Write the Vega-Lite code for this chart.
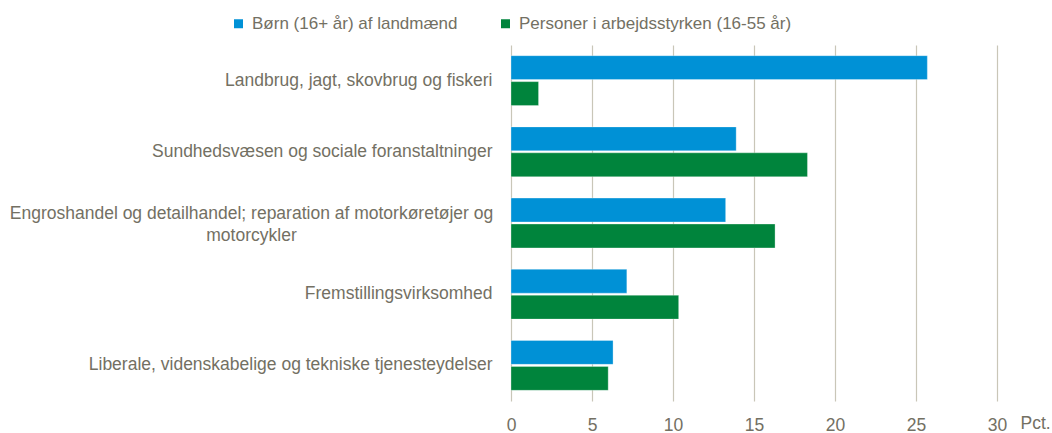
{
  "$schema": "https://vega.github.io/schema/vega-lite/v6.json",
  "autosize": "none",
  "width": 486,
  "height": 356,
  "padding": {"left": 511, "top": 45, "right": 55, "bottom": 32},
  "background": "white",
  "data": {
    "values": [
      {"branche": "Landbrug, jagt, skovbrug og fiskeri", "gruppe": "Børn (16+ år) af landmænd", "pct": 25.7},
      {"branche": "Landbrug, jagt, skovbrug og fiskeri", "gruppe": "Personer i arbejdsstyrken (16-55 år)", "pct": 1.7},
      {"branche": "Sundhedsvæsen og sociale foranstaltninger", "gruppe": "Børn (16+ år) af landmænd", "pct": 13.9},
      {"branche": "Sundhedsvæsen og sociale foranstaltninger", "gruppe": "Personer i arbejdsstyrken (16-55 år)", "pct": 18.3},
      {"branche": "Engroshandel og detailhandel; reparation af motorkøretøjer og motorcykler", "gruppe": "Børn (16+ år) af landmænd", "pct": 13.25},
      {"branche": "Engroshandel og detailhandel; reparation af motorkøretøjer og motorcykler", "gruppe": "Personer i arbejdsstyrken (16-55 år)", "pct": 16.3},
      {"branche": "Fremstillingsvirksomhed", "gruppe": "Børn (16+ år) af landmænd", "pct": 7.15},
      {"branche": "Fremstillingsvirksomhed", "gruppe": "Personer i arbejdsstyrken (16-55 år)", "pct": 10.35},
      {"branche": "Liberale, videnskabelige og tekniske tjenesteydelser", "gruppe": "Børn (16+ år) af landmænd", "pct": 6.3},
      {"branche": "Liberale, videnskabelige og tekniske tjenesteydelser", "gruppe": "Personer i arbejdsstyrken (16-55 år)", "pct": 6.0}
    ]
  },
  "mark": {"type": "bar", "stroke": "white", "strokeWidth": 0.5, "strokeOpacity": 0.6},
  "encoding": {
    "y": {
      "field": "branche",
      "type": "nominal",
      "sort": null,
      "scale": {"paddingInner": 0.3, "paddingOuter": 0.15},
      "axis": {
        "title": null,
        "domain": false,
        "ticks": false,
        "grid": false,
        "labelFont": "Liberation Sans",
        "labelFontSize": 17.5,
        "labelColor": "#737063",
        "labelLimit": 600,
        "labelLineHeight": 22,
        "labelExpr": "indexof(datum.value, 'Engros') == 0 ? ['Engroshandel og detailhandel; reparation af motorkøretøjer og', 'motorcykler'] : datum.value",
        "labelAlign": {"condition": {"test": "indexof(datum.value, 'Engros') == 0", "value": "center"}, "value": "right"},
        "labelPadding": {"condition": {"test": "indexof(datum.value, 'Engros') == 0", "value": 260}, "value": 19},
        "labelOffset": {"condition": {"test": "indexof(datum.value, 'Engros') == 0", "value": -9}, "value": 0}
      }
    },
    "yOffset": {
      "field": "gruppe",
      "type": "nominal",
      "sort": ["Børn (16+ år) af landmænd", "Personer i arbejdsstyrken (16-55 år)"],
      "scale": {"paddingInner": 0.08}
    },
    "x": {
      "field": "pct",
      "type": "quantitative",
      "scale": {"domain": [0, 30], "nice": false},
      "axis": {
        "values": [0, 5, 10, 15, 20, 25, 30],
        "domain": false,
        "ticks": false,
        "grid": true,
        "gridColor": "#c9c6b8",
        "gridWidth": 1.2,
        "labelFlush": false,
        "labelFont": "Liberation Sans",
        "labelFontSize": 17.5,
        "labelColor": "#737063",
        "labelPadding": 15,
        "title": "Pct.",
        "titleFont": "Liberation Sans",
        "titleFontSize": 17.5,
        "titleFontWeight": "normal",
        "titleColor": "#737063",
        "titleAlign": "left",
        "titleBaseline": "middle",
        "titleAnchor": "start",
        "titleX": 509,
        "titleY": 22
      }
    },
    "color": {
      "field": "gruppe",
      "type": "nominal",
      "scale": {
        "domain": ["Børn (16+ år) af landmænd", "Personer i arbejdsstyrken (16-55 år)"],
        "range": ["#0091d6", "#00843c"]
      },
      "legend": {
        "title": null,
        "orient": "none",
        "direction": "horizontal",
        "legendX": -281,
        "legendY": -30,
        "symbolType": "square",
        "symbolSize": 81,
        "symbolStrokeWidth": 0,
        "labelFont": "Liberation Sans",
        "labelFontSize": 17,
        "labelColor": "#737063",
        "labelOffset": 5,
        "columnPadding": 39,
        "labelLimit": 400
      }
    }
  },
  "config": {"view": {"stroke": null}}
}
